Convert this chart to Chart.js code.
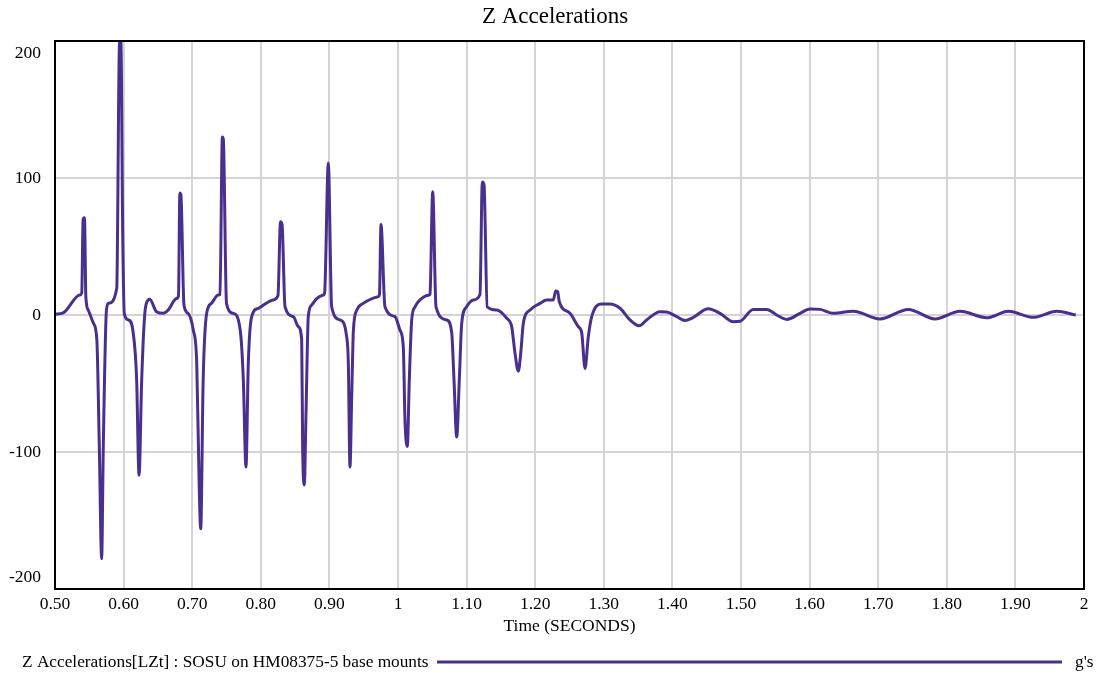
<!DOCTYPE html>
<html>
<head>
<meta charset="utf-8">
<script src="https://cdn.jsdelivr.net/npm/chart.js@4.4.1/dist/chart.umd.min.js"></script>
<style>
  html, body { margin: 0; padding: 0; background: #fff; }
  #wrap { width: 1096px; height: 675px; }
</style>
</head>
<body>
<div id="wrap"><canvas id="accelChart" width="1096" height="675"></canvas></div>
<script>
// ==== Data ====
const chartTitle = "Z Accelerations";
const xTitle = "Time (SECONDS)";
const seriesName = "Z Accelerations[LZt] : SOSU on HM08375-5 base mounts";
const unitName = "g's";

const times = [
  0.500, 0.512, 0.536, 0.539, 0.541, 0.543, 0.545, 0.5485, 0.556, 0.561,
  0.5646, 0.568, 0.5704, 0.575, 0.578, 0.590, 0.594, 0.596, 0.5987, 0.601,
  0.607, 0.614, 0.619, 0.6225, 0.6264, 0.631, 0.636, 0.638, 0.648, 0.658,
  0.665, 0.677, 0.680, 0.682, 0.6835, 0.688, 0.694, 0.7016, 0.7066, 0.710,
  0.7124, 0.716, 0.721, 0.728, 0.738, 0.7405, 0.744, 0.7454, 0.750, 0.760,
  0.770, 0.7745, 0.7784, 0.7818, 0.7867, 0.7964, 0.818, 0.825, 0.8287, 0.831,
  0.8353, 0.8474, 0.8547, 0.8596, 0.861, 0.8634, 0.8659, 0.8692, 0.8742, 0.8815,
  0.891, 0.893, 0.8984, 0.9033, 0.9155, 0.9252, 0.9276, 0.930, 0.9325, 0.935,
  0.940, 0.9494, 0.9713, 0.973, 0.9752, 0.981, 0.9956, 1.0029, 1.0077, 1.0102,
  1.0136, 1.0165, 1.020, 1.0248, 1.032, 1.0456, 1.0466, 1.0506, 1.0554, 1.071,
  1.0783, 1.0816, 1.0856, 1.0894, 1.0929, 1.100, 1.1098, 1.1195, 1.1229, 1.1254,
  1.130, 1.1439, 1.1585, 1.1657, 1.1706, 1.1754, 1.1789, 1.1827, 1.1924, 1.207,
  1.2168, 1.2264, 1.2299, 1.2328, 1.2351, 1.2507, 1.2628, 1.2678, 1.2726, 1.2774,
  1.2824, 1.2969, 1.309, 1.3236, 1.3382, 1.3517, 1.3625, 1.3819, 1.3917, 1.4063,
  1.4184, 1.4305, 1.4523, 1.4694, 1.4888, 1.4985, 1.5179, 1.5375, 1.552, 1.5666,
  1.586, 1.6006, 1.6152, 1.6345, 1.6637, 1.7026, 1.7439, 1.7828, 1.8192, 1.8582,
  1.8897, 1.9261, 1.9602, 1.988
];

const accel = [
  0.5, 1.5, 14.6, 16, 70, 71, 13, 3.6, -6, -18,
  -96, -178, -96, 3.6, 8.5, 19.5, 198, 200, 60, 1,
  -3.6, -13, -47, -117, -47, 1.5, 11, 11.5, 2.4, 1.2,
  3.6, 12, 14, 89, 88, 7.3, 1.2, -11, -35, -120,
  -156, -47, 1, 8.5, 14.6, 15, 130, 128, 8.5, 1.2,
  -11, -47, -111, -35, -1.2, 4.9, 11, 14, 68, 66,
  6, -1.2, -8.5, -18, -96, -124, -72, -1.2, 7.3, 12,
  14.6, 16, 111, 6, -3.6, -16, -35, -111, -60, -11,
  3.6, 8.5, 13.4, 15, 66, 6, -1.2, -11, -23, -77,
  -96, -47, -3.6, 6, 11, 14.6, 15, 90, 6, -3.6,
  -13, -47, -89, -47, -6, 6, 11, 15, 97, 95,
  6, 3.6, -2.4, -8.5, -28, -41, -28, -6, 3.6, 8.5,
  11, 11, 17.5, 17, 9.7, 1.2, -8.5, -13, -39, -16,
  -1.2, 8, 8, 4.9, -3.6, -7.8, -3.6, 2.4, 2.2, -1.2,
  -4.1, -1.7, 4.6, 1.2, -4.9, -4.6, 4.1, 4.1, 0, -3.2,
  1.2, 4.4, 4.1, 1.2, 2.7, -2.9, 4.1, -2.9, 2.7, -2,
  2.7, -1.7, 2.7, 0
];

const xTicks = [0.5, 0.6, 0.7, 0.8, 0.9, 1.0, 1.1, 1.2, 1.3, 1.4, 1.5, 1.6, 1.7, 1.8, 1.9, 2.0];
const yTicks = [-200, -100, 0, 100, 200];

// ==== Styles ====
const serif = "'Liberation Serif', 'Times New Roman', serif";
const lineColor = "#48308c";
const gridColor = "#d3d3d9";

function xLabel(v) {
  if (Math.abs(v - Math.round(v)) < 1e-9) return String(Math.round(v));
  return v.toFixed(2);
}

// title, frame, y labels and the bottom legend
const framePlugin = {
  id: "frame",
  afterDraw(chart) {
    const ctx = chart.ctx;
    const area = chart.chartArea;
    const yScale = chart.scales.y;
    ctx.save();

    ctx.fillStyle = "#000";
    ctx.textBaseline = "middle";
    ctx.textAlign = "center";
    ctx.font = "23px " + serif;
    ctx.fillText(chartTitle, 555, 17);

    // box round the plot
    ctx.strokeStyle = "#000";
    ctx.lineWidth = 2;
    ctx.strokeRect(area.left, area.top, area.right - area.left, area.bottom - area.top);

    // y tick labels, kept inside the box at the ends
    ctx.font = "17.5px " + serif;
    ctx.textAlign = "right";
    yTicks.forEach(v => {
      let y = yScale.getPixelForValue(v);
      y = Math.min(Math.max(y, area.top + 12), area.bottom - 12);
      ctx.fillText(String(v), area.left - 14, y);
    });

    // legend
    const ly = 662;
    ctx.font = "17.3px " + serif;
    ctx.textAlign = "left";
    ctx.fillText(seriesName, 22, ly);
    ctx.strokeStyle = lineColor;
    ctx.lineWidth = 3;
    ctx.beginPath();
    ctx.moveTo(437, ly);
    ctx.lineTo(1062, ly);
    ctx.stroke();
    ctx.fillText(unitName, 1075, ly);
    ctx.restore();
  }
};

const chart = new Chart(document.getElementById("accelChart"), {
  type: "line",
  data: {
    datasets: [{
      label: seriesName,
      data: times.map((t, i) => ({ x: t, y: accel[i] })),
      borderColor: lineColor,
      borderWidth: 3,
      pointRadius: 0,
      fill: false,
      cubicInterpolationMode: "monotone"
    }]
  },
  options: {
    responsive: false,
    animation: false,
    layout: { padding: { left: 55, right: 12, top: 41, bottom: 38 } },
    plugins: {
      legend: { display: false },
      tooltip: { enabled: false },
      title: { display: false }
    },
    scales: {
      x: {
        type: "linear",
        min: 0.5,
        max: 2,
        afterBuildTicks: s => { s.ticks = xTicks.map(v => ({ value: v })); },
        ticks: {
          color: "#000",
          font: { family: serif, size: 17.5 },
          padding: 5,
          maxRotation: 0,
          autoSkip: false,
          callback: v => xLabel(v)
        },
        grid: { color: gridColor, lineWidth: 2, drawTicks: false },
        border: { display: false },
        title: {
          display: true,
          text: xTitle,
          color: "#000",
          font: { family: serif, size: 17.5 },
          padding: { top: -4, bottom: 0 }
        }
      },
      y: {
        min: -200,
        max: 200,
        afterBuildTicks: s => { s.ticks = yTicks.map(v => ({ value: v })); },
        ticks: { display: false },
        grid: { color: gridColor, lineWidth: 2, drawTicks: false },
        border: { display: false }
      }
    }
  },
  plugins: [framePlugin]
});
</script>
</body>
</html>
